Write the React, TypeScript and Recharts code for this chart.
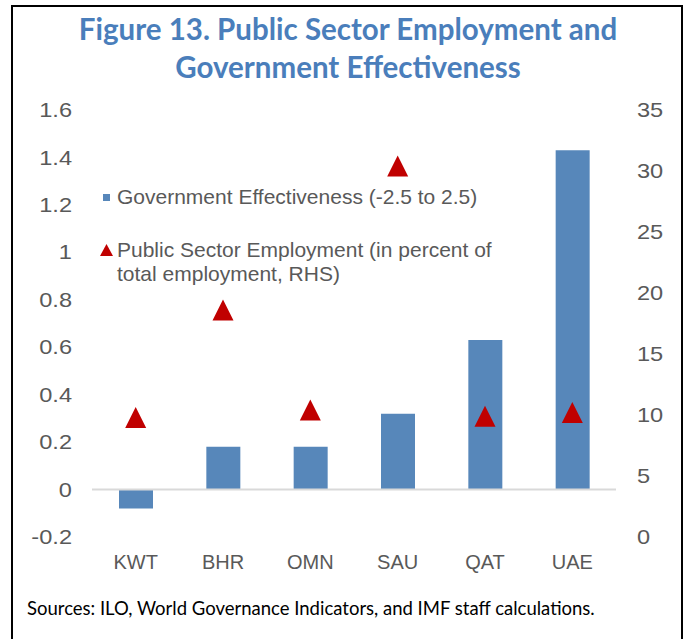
import React from "react";
import { ComposedChart, Bar, Scatter, XAxis, YAxis, ReferenceLine } from "recharts";

const countries = ["KWT", "BHR", "OMN", "SAU", "QAT", "UAE"];
const govEffectiveness = [-0.08, 0.18, 0.18, 0.32, 0.63, 1.43];
const publicEmployment = [9.8, 18.6, 10.4, 30.4, 9.9, 10.2];
const leftTicks = [-0.2, 0, 0.2, 0.4, 0.6, 0.8, 1, 1.2, 1.4, 1.6];
const rightTicks = [0, 5, 10, 15, 20, 25, 30, 35];

const data = countries.map((c, i) => ({
  country: c,
  ge: govEffectiveness[i],
  pse: publicEmployment[i],
}));

const BAR_COLOR = "#5787BA";
const TRI_COLOR = "#C00000";
const TEXT_COLOR = "#595959";
const AXIS_FONT = "'Liberation Sans', Arial, sans-serif";

const Triangle = (props: any) => {
  const { cx, cy } = props;
  if (cx == null || cy == null) return null;
  const w = 21;
  const h = 21;
  return (
    <polygon
      points={`${cx - w / 2},${cy + h / 2} ${cx + w / 2},${cy + h / 2} ${cx},${cy - h / 2}`}
      fill={TRI_COLOR}
    />
  );
};

const StretchTick = (props: any) => {
  const { x, y, payload, textAnchor, fmt } = props;
  const label = fmt ? fmt(payload.value) : String(payload.value);
  return (
    <g transform={`translate(${x},${y}) scale(1.18,1)`}>
      <text
        x={0}
        y={0}
        dy="0.355em"
        textAnchor={textAnchor}
        fill={TEXT_COLOR}
        fontSize={20}
        fontFamily={AXIS_FONT}
      >
        {label}
      </text>
    </g>
  );
};

const fmtLeft = (v: number) => String(Math.round(v * 10) / 10);

export default function App() {
  return (
    <div
      style={{
        position: "fixed",
        left: 0,
        top: 0,
        width: 686,
        height: 639,
        background: "#fff",
        overflow: "hidden",
      }}
    >
      <div
        style={{
          position: "absolute",
          left: 11,
          top: 5,
          width: 672,
          height: 700,
          border: "2px solid #000",
          boxSizing: "border-box",
        }}
      />
      <div
        style={{
          position: "absolute",
          left: 0,
          top: 10,
          width: 696,
          textAlign: "center",
          fontFamily: "Lato, 'Open Sans', sans-serif",
          fontWeight: 700,
          fontSize: 29.5,
          lineHeight: "38px",
          color: "#4A7EBB",
        }}
      >
        Figure 13. Public Sector Employment and
        <br />
        Government Effectiveness
      </div>
      <div style={{ position: "absolute", left: 0, top: 0 }}>
        <ComposedChart
          width={686}
          height={639}
          data={data}
          margin={{ top: 110, right: 10, bottom: 72, left: 32 }}
        >
          <XAxis
            dataKey="country"
            axisLine={false}
            tickLine={false}
            height={30}
            tickMargin={12}
            tick={{ fill: TEXT_COLOR, fontSize: 20, fontFamily: AXIS_FONT }}
          />
          <YAxis
            yAxisId="left"
            orientation="left"
            domain={[-0.2, 1.6]}
            ticks={leftTicks}
            width={60}
            axisLine={false}
            tickLine={false}
            tickMargin={14}
            interval={0}
            tick={<StretchTick fmt={fmtLeft} />}
          />
          <YAxis
            yAxisId="right"
            orientation="right"
            domain={[0, 35]}
            ticks={rightTicks}
            width={60}
            axisLine={false}
            tickLine={false}
            tickMargin={15}
            interval={0}
            tick={<StretchTick />}
          />
          <ReferenceLine yAxisId="left" y={0} stroke="#D9D9D9" strokeWidth={2} />
          <Bar
            yAxisId="left"
            dataKey="ge"
            fill={BAR_COLOR}
            barSize={34}
            isAnimationActive={false}
          />
          <Scatter
            yAxisId="right"
            dataKey="pse"
            shape={Triangle}
            isAnimationActive={false}
          />
        </ComposedChart>
      </div>
      {/* Legend */}
      <div
        style={{
          position: "absolute",
          left: 103,
          top: 194,
          width: 7,
          height: 7,
          background: BAR_COLOR,
        }}
      />
      <div
        style={{
          position: "absolute",
          left: 117,
          top: 185,
          fontFamily: AXIS_FONT,
          fontSize: 21,
          lineHeight: "24px",
          color: TEXT_COLOR,
          whiteSpace: "nowrap",
        }}
      >
        Government Effectiveness (-2.5 to 2.5)
      </div>
      <svg
        style={{ position: "absolute", left: 99, top: 243 }}
        width={15}
        height={14}
      >
        <polygon points="1,13 14,13 7.5,1" fill={TRI_COLOR} />
      </svg>
      <div
        style={{
          position: "absolute",
          left: 117,
          top: 238,
          fontFamily: AXIS_FONT,
          fontSize: 21,
          lineHeight: "24px",
          color: TEXT_COLOR,
          whiteSpace: "nowrap",
        }}
      >
        Public Sector Employment (in percent of
        <br />
        total employment, RHS)
      </div>
      <div
        style={{
          position: "absolute",
          left: 27,
          top: 596,
          fontFamily: "Lato, 'Open Sans', sans-serif",
          fontSize: 18.5,
          lineHeight: "24px",
          color: "#000",
          whiteSpace: "nowrap",
        }}
      >
        Sources: ILO, World Governance Indicators, and IMF staff calculations.
      </div>
    </div>
  );
}
